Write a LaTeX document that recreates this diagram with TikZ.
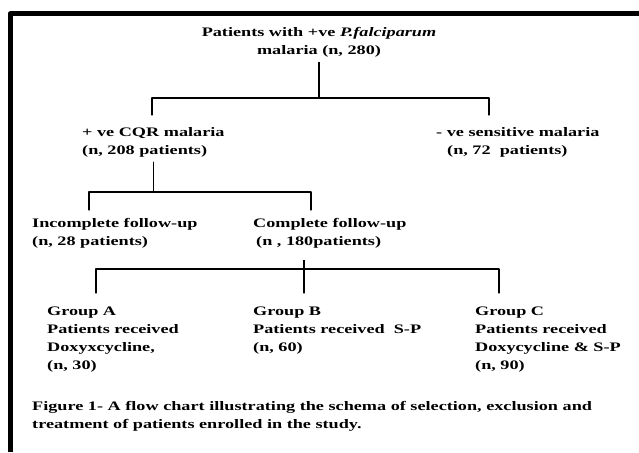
\documentclass[tikz,border=0pt]{standalone}
\usepackage{fontspec}
\setmainfont{Liberation Serif}[FakeStretch=1.4]
\begin{document}
\begin{tikzpicture}[x=1pt,y=-1pt,line cap=round,line join=round,
    txt/.style={inner sep=0pt,anchor=north west,align=left,
      font=\fontsize{13}{18}\selectfont\bfseries},
    link/.style={line width=1.1pt}]
  \useasboundingbox (0,0) rectangle (639,452);
  % frame
  \draw[line width=5pt,line cap=butt] (10,452) -- (10,14) -- (639,14);

  \node[txt,anchor=north,align=center] (pf) at (319,27)
    {Patients with +ve \textit{P.falciparum}\\malaria (n, 280)};

  \node[txt] (cqr) at (82,127) {+ ve CQR malaria\\(n, 208 patients)};
  \node[txt] (sens) at (436,127)
    {- ve sensitive malaria\\\hspace*{11pt}(n, 72~~patients)};

  \node[txt] (inc) at (32,218) {Incomplete follow-up\\(n, 28 patients)};
  \node[txt] (comp) at (253,218) {Complete follow-up\\\hspace*{3pt}(n , 180patients)};

  \node[txt] (ga) at (47,307)
    {Group A\\Patients received\\Doxyxcycline,\\(n, 30)};
  \node[txt] (gb) at (253,307)
    {Group B\\Patients received~~S-P\\(n, 60)};
  \node[txt] (gc) at (475,307)
    {Group C\\Patients received\\Doxycycline \& S-P\\(n, 90)};

  \node[txt] (cap) at (32,401)
    {Figure 1- A flow chart illustrating the schema of selection, exclusion and\\
     treatment of patients enrolled in the study.};

  % branches
  \coordinate (a1) at (152,98);
  \coordinate (a2) at (489,98);
  \draw[link] ([yshift=-5pt]pf.south) -- (pf.south |- a1);
  \draw[link] ([yshift=12pt]cqr.north -| a1) -- (a1) -- (a2)
    -- ([yshift=12pt]sens.north -| a2);

  \coordinate (b1) at (89,192);
  \coordinate (b2) at (311,192);
  \draw[link] ([yshift=-5pt]cqr.south) -- (cqr.south |- b1);
  \draw[link] ([yshift=8pt]inc.north -| b1) -- (b1) -- (b2)
    -- ([yshift=8pt]comp.north -| b2);

  \coordinate (c0) at (304,269);
  \coordinate (c1) at (96,269);
  \coordinate (c2) at (499,269);
  \draw[link] ([yshift=-12pt]comp.south -| c0) -- ([yshift=14pt]gb.north -| c0);
  \draw[link] ([yshift=14pt]ga.north -| c1) -- (c1) -- (c2)
    -- ([yshift=14pt]gc.north -| c2);
\end{tikzpicture}
\end{document}
